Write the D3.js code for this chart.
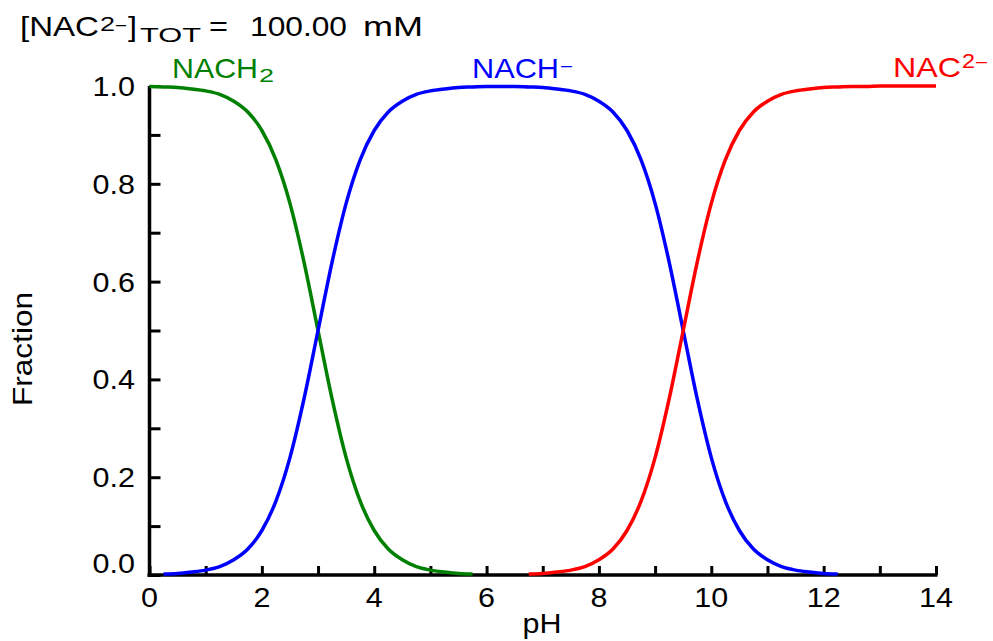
<!DOCTYPE html>
<html>
<head>
<meta charset="utf-8">
<script src="https://cdn.jsdelivr.net/npm/d3@7"></script>
<style>
  body { margin: 0; background: #fff; }
  text { font-family: "Liberation Sans", Arial, sans-serif; }
</style>
</head>
<body>
<div id="viz"></div>
<script>
// data

// pH grid
const pH = [0, 0.25, 0.5, 0.75, 1, 1.25, 1.5, 1.75, 2, 2.25, 2.5, 2.75, 3, 3.25, 3.5, 3.75,
  4, 4.25, 4.5, 4.75, 5, 5.25, 5.5, 5.75, 6, 6.25, 6.5, 6.75, 7, 7.25, 7.5, 7.75,
  8, 8.25, 8.5, 8.75, 9, 9.25, 9.5, 9.75, 10, 10.25, 10.5, 10.75, 11, 11.25, 11.5, 11.75,
  12, 12.25, 12.5, 12.75, 13, 13.25, 13.5, 13.75, 14];

//NACH2
const nach2 = [0.999, 0.998, 0.997, 0.994, 0.990, 0.983, 0.969, 0.947, 0.909, 0.849, 0.760, 0.640,
  0.500, 0.360, 0.240, 0.151, 0.091, 0.053, 0.031, 0.017, 0.010, 0.006, 0.003, 0.002,
  null, null, null, null, null, null, null, null, null, null, null, null, null, null, null, null,
  null, null, null, null, null, null, null, null, null, null, null, null, null, null, null, null, null];

//NACH-
const nach = [null, 0.002, 0.003, 0.006, 0.010, 0.017, 0.031, 0.053, 0.091, 0.151, 0.240, 0.360,
  0.500, 0.640, 0.760, 0.849, 0.909, 0.947, 0.969, 0.983, 0.990, 0.994, 0.997, 0.998,
  0.999, 0.999, 0.999, 0.998, 0.997, 0.994, 0.990, 0.983, 0.969, 0.947, 0.909, 0.849,
  0.760, 0.640, 0.500, 0.360, 0.240, 0.151, 0.091, 0.053, 0.031, 0.017, 0.010, 0.006,
  0.003, 0.002, null, null, null, null, null, null, null];

//NAC2-
const nac = [null, null, null, null, null, null, null, null, null, null, null, null, null, null,
  null, null, null, null, null, null, null, null, null, null, null, null, null,
  0.002, 0.003, 0.006, 0.010, 0.017, 0.031, 0.053, 0.091, 0.151, 0.240, 0.360,
  0.500, 0.640, 0.760, 0.849, 0.909, 0.947, 0.969, 0.983, 0.990, 0.994, 0.997, 0.998,
  0.999, 0.999, 1.000, 1.000, 1.000, 1.000, 1.000];

const xTicks = [0, 1, 2, 3, 4, 5, 6, 7, 8, 9, 10, 11, 12, 13, 14];
const xLabels = [0, 2, 4, 6, 8, 10, 12, 14];
const yTicks = [0, 0.1, 0.2, 0.3, 0.4, 0.5, 0.6, 0.7, 0.8, 0.9, 1.0];
const yLabels = [0, 0.2, 0.4, 0.6, 0.8, 1.0];

const green = '#008000';
const blue = '#0000ff';
const red = '#ff0000';

// draw
const width = 993;
const height = 641;
const stretch = 1.13; // text in the picture is a bit wider than Arial

let x = d3.scaleLinear().domain([0, 14]).range([149.5, 936]);
let y = d3.scaleLinear().domain([0, 1]).range([575, 86]);

let svg = d3
  .select('#viz')
  .append('svg')
  .attr('width', width)
  .attr('height', height);

// helper for wide text
function label(px, py, anchor, size, fill) {
  return svg
    .append('text')
    .attr('transform', 'translate(' + px + ',' + py + ') scale(' + stretch + ',1)')
    .attr('text-anchor', anchor)
    .attr('font-size', size)
    .attr('fill', fill || '#000');
}

// helper for a piece of text fitted to a given width
function piece(px, py, size, w, str, fill) {
  return svg
    .append('text')
    .attr('x', px)
    .attr('y', py)
    .attr('font-size', size)
    .attr('textLength', w)
    .attr('lengthAdjust', 'spacingAndGlyphs')
    .attr('fill', fill || '#000')
    .text(str);
}

// axes
let xAxis = d3.axisTop(x).tickValues(xTicks).tickSize(9).tickFormat('');
let yAxis = d3.axisRight(y).tickValues(yTicks).tickSize(11).tickFormat('');

svg
  .append('g')
  .attr('transform', 'translate(0,575)')
  .call(xAxis)
  .call((g) => g.select('.domain').attr('d', 'M147.5,0H937.5').attr('stroke-width', 3.5))
  .call((g) => g.selectAll('.tick line').attr('stroke-width', 3));

svg
  .append('g')
  .attr('transform', 'translate(149.5,0)')
  .call(yAxis)
  .call((g) => g.select('.domain').attr('d', 'M0,86V577').attr('stroke-width', 3.5))
  .call((g) => g.selectAll('.tick line').attr('stroke-width', 3));

// tick labels
xLabels.forEach((v) => {
  label(x(v), 607, 'middle', 27).text(v);
});
yLabels.forEach((v) => {
  let yy = y(v) + 10;
  if (v === 0) yy -= 12;
  label(135, yy, 'end', 27).text(v.toFixed(1));
});

// axis titles
label(542, 633, 'middle', 27).text('pH');
svg
  .append('text')
  .attr('transform', 'translate(32,349) rotate(-90) scale(1.17,1)')
  .attr('text-anchor', 'middle')
  .attr('font-size', 27)
  .text('Fraction');

// curves
let line = d3
  .line()
  .defined((d) => d[1] != null)
  .x((d) => x(d[0]))
  .y((d) => y(d[1]))
  .curve(d3.curveMonotoneX);

let series = [
  { values: nach2, color: green },
  { values: nach, color: blue },
  { values: nac, color: red },
];

series.forEach((s) => {
  svg
    .append('path')
    .datum(pH.map((p, i) => [p, s.values[i]]))
    .attr('d', line)
    .attr('fill', 'none')
    .attr('stroke', s.color)
    .attr('stroke-width', 3.5)
    .attr('stroke-linejoin', 'round');
});

// title, piece by piece
piece(20, 36, 28, 79, '[NAC');
piece(100, 31, 21, 15, '2');
piece(116, 31, 21, 10, '\u2013');
piece(128, 36, 28, 9, ']');
piece(140, 42, 20, 61, 'TOT');
piece(209, 36, 28, 19, '=');
piece(250, 36, 28, 97, '100.00');
piece(363, 36, 28, 60, 'mM');

// curve labels
piece(172, 78, 28, 86, 'NACH', green);
piece(259, 82, 18, 15, '2', green);

piece(472, 78, 28, 87, 'NACH', blue);
piece(561, 72, 20, 11, '\u2013', blue);

piece(893, 77, 28, 68, 'NAC', red);
piece(962, 68, 20, 13, '2', red);
piece(976, 68, 20, 11, '\u2013', red);
</script>
</body>
</html>
